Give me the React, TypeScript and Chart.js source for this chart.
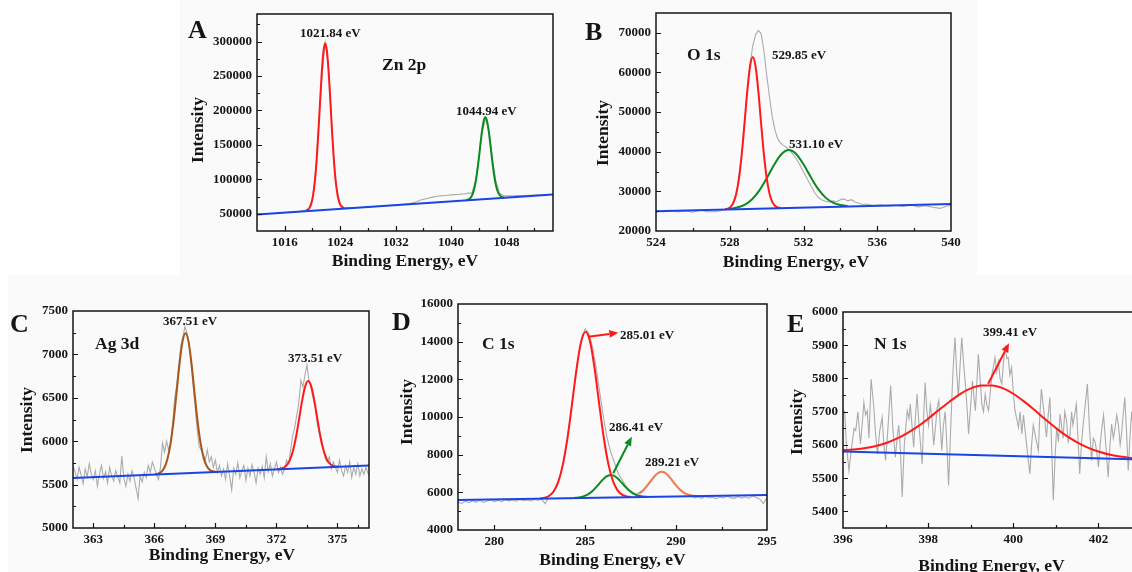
import React, { useEffect, useRef } from "react";
import { Chart, registerables } from "chart.js";

Chart.register(...registerables);

const SERIF = '"Liberation Serif", "Times New Roman", serif';

// ---------------- Panel A : Zn 2p ----------------
const A_RAW_X = [1012, 1012.5, 1013, 1013.5, 1014, 1014.5, 1015, 1015.5, 1016, 1016.5, 1017, 1017.5, 1018, 1018.5, 1019, 1019.5, 1020, 1020.5, 1021, 1021.5, 1021.84, 1022.25, 1022.5, 1023, 1023.5, 1024, 1024.5, 1025, 1025.5, 1026, 1026.5, 1027, 1027.5, 1028, 1028.5, 1029, 1029.5, 1030, 1030.5, 1031, 1031.5, 1032, 1032.5, 1033, 1033.5, 1034, 1034.5, 1035, 1035.5, 1036, 1036.5, 1037, 1037.5, 1038, 1038.5, 1039, 1039.5, 1040, 1040.5, 1041, 1041.5, 1042, 1042.5, 1043, 1043.5, 1044, 1044.5, 1045, 1045.5, 1046, 1046.5, 1047, 1047.5, 1048, 1048.5, 1049, 1049.5, 1050, 1050.5, 1051, 1051.5, 1052, 1052.5, 1053, 1053.5, 1054, 1054.7];
const A_RAW_Y = [49500, 49600, 49900, 50000, 50500, 50600, 51000, 51200, 51800, 52000, 52400, 52600, 53200, 54500, 55500, 58000, 72000, 115000, 195000, 265000, 298000, 268000, 235000, 140000, 86000, 64000, 59500, 59000, 59200, 58800, 59000, 59200, 59600, 59800, 60200, 60500, 60900, 61400, 61600, 62000, 62400, 62800, 63300, 63600, 64200, 64900, 66000, 67500, 69500, 71000, 72000, 73500, 74500, 75500, 76000, 76500, 77000, 77500, 77800, 78000, 78500, 79000, 80000, 80000, 98000, 130000, 170000, 188000, 168000, 127000, 95000, 80000, 76500, 76000, 76200, 76000, 76300, 76500, 76600, 76800, 77000, 77200, 77400, 77600, 77800, 78000, 78300];
const A_PEAK1_X = [1019.09, 1019.34, 1019.59, 1019.84, 1020.09, 1020.34, 1020.59, 1020.84, 1021.09, 1021.34, 1021.59, 1021.84, 1022.09, 1022.34, 1022.59, 1022.84, 1023.09, 1023.34, 1023.59, 1023.84, 1024.09, 1024.34, 1024.59];
const A_PEAK1_Y = [54500, 55800, 58800, 65000, 76700, 96300, 126000, 166000, 211000, 254500, 286000, 297500, 286000, 255000, 212000, 167000, 128000, 98300, 79000, 67600, 61800, 59200, 58200];
const A_PEAK2_X = [1042.19, 1042.44, 1042.69, 1042.94, 1043.19, 1043.44, 1043.69, 1043.94, 1044.19, 1044.44, 1044.69, 1044.94, 1045.19, 1045.44, 1045.69, 1045.94, 1046.19, 1046.44, 1046.69, 1046.94, 1047.19, 1047.44, 1047.69];
const A_PEAK2_Y = [69800, 70600, 72100, 75200, 81100, 90800, 105500, 125000, 147300, 168600, 184100, 190000, 184400, 169300, 148300, 126400, 107200, 92800, 83500, 77900, 75200, 74000, 73600];
const A_BASE_X = [1012, 1054.7];
const A_BASE_Y = [49000, 78000];
const A_X_TICKS = [1016, 1024, 1032, 1040, 1048];
const A_X_MINOR = [1020, 1028, 1036, 1044, 1052];
const A_Y_TICKS = [50000, 100000, 150000, 200000, 250000, 300000];
const A_Y_MINOR = [75000, 125000, 175000, 225000, 275000, 325000];

// ---------------- Panel B : O 1s ----------------
const B_RAW_X = [524.0, 524.4, 524.8, 525.2, 525.6, 526.0, 526.4, 526.8, 527.2, 527.6, 527.9, 528.05, 528.2, 528.35, 528.5, 528.65, 528.8, 528.95, 529.1, 529.25, 529.4, 529.55, 529.7, 529.85, 530.0, 530.15, 530.3, 530.45, 530.6, 530.75, 530.9, 531.05, 531.2, 531.4, 531.6, 531.8, 532.0, 532.2, 532.4, 532.6, 532.8, 533.0, 533.2, 533.4, 533.6, 533.8, 534.0, 534.2, 534.4, 534.6, 534.8, 535.0, 535.2, 535.4, 535.8, 536.2, 536.6, 537.0, 537.4, 537.8, 538.2, 538.6, 539.0, 539.4, 539.8, 540.0];
const B_RAW_Y = [25100, 24900, 25250, 24800, 25050, 24750, 25300, 24900, 24850, 25250, 25500, 26100, 27300, 29500, 33500, 39500, 47300, 55500, 62000, 66800, 69500, 70600, 69800, 65500, 59500, 54000, 49000, 45500, 43300, 42200, 41600, 41200, 40600, 39500, 38300, 36700, 34900, 33200, 31400, 29700, 28500, 27800, 27500, 27300, 27600, 27400, 27900, 28100, 27600, 27900, 27300, 27000, 26700, 26800, 26400, 26600, 26300, 26500, 26200, 26600, 26100, 26400, 26000, 25700, 26300, 26500];
const B_PEAK1_X = [527.75, 527.9, 528.05, 528.2, 528.35, 528.5, 528.65, 528.8, 528.95, 529.1, 529.25, 529.4, 529.55, 529.7, 529.85, 530.0, 530.15, 530.3, 530.45, 530.6, 530.75];
const B_PEAK1_Y = [25490, 25660, 26100, 27150, 29350, 33280, 39310, 47100, 55240, 61500, 63890, 61540, 55300, 47200, 39450, 33450, 29550, 27390, 26380, 25960, 25830];
const B_PEAK2_X = [528.0, 528.4, 528.8, 529.2, 529.6, 530.0, 530.4, 530.8, 531.2, 531.6, 532.0, 532.4, 532.8, 533.2, 533.6, 534.0, 534.4];
const B_PEAK2_Y = [25590, 25920, 26610, 27970, 30200, 33270, 36640, 39350, 40410, 39440, 36820, 33540, 30560, 28420, 27150, 26550, 26310];
const B_BASE_X = [524, 540];
const B_BASE_Y = [25000, 26800];
const B_X_TICKS = [524, 528, 532, 536, 540];
const B_X_MINOR = [526, 530, 534, 538];
const B_Y_TICKS = [20000, 30000, 40000, 50000, 60000, 70000];
const B_Y_MINOR = [25000, 35000, 45000, 55000, 65000];

// ---------------- Panel C : Ag 3d ----------------
const C_RAW_X = [362.0, 362.1, 362.2, 362.3, 362.4, 362.5, 362.6, 362.7, 362.8, 362.9, 363.0, 363.1, 363.2, 363.3, 363.4, 363.5, 363.6, 363.7, 363.8, 363.9, 364.0, 364.1, 364.2, 364.3, 364.4, 364.5, 364.6, 364.7, 364.8, 364.9, 365.0, 365.1, 365.2, 365.3, 365.4, 365.5, 365.6, 365.7, 365.8, 365.9, 366.0, 366.1, 366.2, 366.3, 366.4, 366.5, 366.6, 366.7, 366.8, 366.9, 367.0, 367.1, 367.2, 367.3, 367.4, 367.5, 367.6, 367.7, 367.8, 367.9, 368.0, 368.1, 368.2, 368.3, 368.4, 368.5, 368.6, 368.7, 368.8, 368.9, 369.0, 369.1, 369.2, 369.3, 369.4, 369.5, 369.6, 369.7, 369.8, 369.9, 370.0, 370.1, 370.2, 370.3, 370.4, 370.5, 370.6, 370.7, 370.8, 370.9, 371.0, 371.1, 371.2, 371.3, 371.4, 371.5, 371.6, 371.7, 371.8, 371.9, 372.0, 372.1, 372.2, 372.3, 372.4, 372.5, 372.6, 372.7, 372.8, 372.9, 373.0, 373.1, 373.2, 373.3, 373.4, 373.5, 373.6, 373.7, 373.8, 373.9, 374.0, 374.1, 374.2, 374.3, 374.4, 374.5, 374.6, 374.7, 374.8, 374.9, 375.0, 375.1, 375.2, 375.3, 375.4, 375.5, 375.6, 375.7, 375.8, 375.9, 376.0, 376.1, 376.2, 376.3, 376.4, 376.55];
const C_RAW_Y = [5720, 5650, 5560, 5700, 5610, 5510, 5680, 5590, 5740, 5620, 5560, 5660, 5480, 5620, 5720, 5570, 5650, 5520, 5700, 5600, 5540, 5660, 5590, 5520, 5830, 5570, 5480, 5620, 5540, 5660, 5580, 5460, 5340, 5600, 5530, 5640, 5580, 5720, 5640, 5760, 5690, 5620, 5560, 5700, 5980, 5870, 6000, 5900, 5980, 6200, 6500, 6650, 6880, 7100, 7200, 7320, 7250, 7120, 6900, 6650, 6400, 6150, 5940, 5900, 5850, 5780, 5900, 5760, 5820, 5700, 5780, 5640, 5720, 5600, 5680, 5560, 5740, 5600, 5440, 5690, 5620, 5750, 5580, 5660, 5720, 5550, 5690, 5600, 5730, 5640, 5520, 5690, 5620, 5710, 5580, 5820, 5650, 5740, 5600, 5680, 5760, 5640, 5700, 5620, 5680, 5780, 5740, 5900, 6060, 6160, 6300, 6440, 6700, 6620, 6760, 6880, 6700, 6620, 6500, 6400, 6220, 6100, 5980, 5900, 5800, 5760, 5820, 5680, 5760, 5700, 5640, 5780, 5660, 5600, 5720, 5640, 5760, 5580, 5700, 5620, 5740, 5600, 5680, 5620, 5700, 5600];
const C_PEAK1_X = [366.03, 366.18, 366.33, 366.48, 366.63, 366.78, 366.93, 367.08, 367.23, 367.38, 367.53, 367.68, 367.83, 367.98, 368.13, 368.28, 368.43, 368.58, 368.73, 368.88, 369.03];
const C_PEAK1_Y = [5618, 5626, 5645, 5691, 5784, 5951, 6205, 6535, 6879, 7144, 7245, 7147, 6885, 6544, 6217, 5966, 5802, 5712, 5669, 5653, 5648];
const C_PEAK2_X = [372.06, 372.21, 372.36, 372.51, 372.66, 372.81, 372.96, 373.11, 373.26, 373.41, 373.56, 373.71, 373.86, 374.01, 374.16, 374.31, 374.46, 374.61, 374.76, 374.91, 375.06];
const C_PEAK2_Y = [5677, 5682, 5695, 5723, 5782, 5886, 6045, 6250, 6464, 6629, 6693, 6632, 6470, 6259, 6057, 5901, 5800, 5744, 5719, 5709, 5707];
const C_BASE_X = [362, 376.55];
const C_BASE_Y = [5575, 5720];
const C_X_TICKS = [363, 366, 369, 372, 375];
const C_X_MINOR = [364.5, 367.5, 370.5, 373.5, 376];
const C_Y_TICKS = [5000, 5500, 6000, 6500, 7000, 7500];
const C_Y_MINOR = [5250, 5750, 6250, 6750, 7250];

// ---------------- Panel D : C 1s ----------------
const D_RAW_X = [278.0, 278.2, 278.4, 278.6, 278.8, 279.0, 279.2, 279.4, 279.6, 279.8, 280.0, 280.2, 280.4, 280.6, 280.8, 281.0, 281.2, 281.4, 281.6, 281.8, 282.0, 282.2, 282.4, 282.6, 282.8, 283.0, 283.2, 283.4, 283.6, 283.8, 284.0, 284.2, 284.4, 284.6, 284.8, 285.0, 285.2, 285.4, 285.6, 285.8, 286.0, 286.2, 286.4, 286.6, 286.8, 287.0, 287.2, 287.4, 287.6, 287.8, 288.0, 288.2, 288.4, 288.6, 288.8, 289.0, 289.2, 289.4, 289.6, 289.8, 290.0, 290.2, 290.4, 290.6, 290.8, 291.0, 291.2, 291.4, 291.6, 291.8, 292.0, 292.2, 292.4, 292.6, 292.8, 293.0, 293.2, 293.4, 293.6, 293.8, 294.0, 294.2, 294.4, 294.6, 294.8, 295.0];
const D_RAW_Y = [5480, 5410, 5530, 5450, 5560, 5480, 5590, 5460, 5540, 5600, 5510, 5580, 5500, 5610, 5550, 5590, 5530, 5620, 5560, 5600, 5540, 5620, 5580, 5630, 5400, 5810, 5980, 6290, 6820, 7630, 8760, 10170, 11700, 13120, 14180, 14680, 14450, 13720, 12600, 11300, 10000, 8900, 8150, 7600, 7050, 6700, 6400, 6150, 6000, 5900, 6000, 6150, 6380, 6620, 6860, 7020, 7120, 7050, 6870, 6630, 6380, 6170, 6010, 5920, 5860, 5700, 5760, 5680, 5780, 5700, 5740, 5660, 5760, 5700, 5790, 5720, 5680, 5780, 5700, 5760, 5690, 5800, 5730, 5640, 5400, 5720];
const D_PEAK1_X = [282.52, 282.77, 283.02, 283.27, 283.52, 283.77, 284.02, 284.27, 284.52, 284.77, 285.02, 285.27, 285.52, 285.77, 286.02, 286.27, 286.52, 286.77, 287.02, 287.27, 287.52];
const D_PEAK1_Y = [5676, 5715, 5818, 6061, 6566, 7471, 8865, 10659, 12533, 13977, 14531, 13985, 12549, 10683, 8897, 7511, 6614, 6117, 5882, 5787, 5756];
const D_PEAK2_X = [284.4, 284.65, 284.9, 285.15, 285.4, 285.65, 285.9, 286.15, 286.4, 286.65, 286.9, 287.15, 287.4, 287.65, 287.9, 288.15, 288.4];
const D_PEAK2_Y = [5702, 5727, 5783, 5891, 6074, 6328, 6608, 6834, 6923, 6842, 6624, 6352, 6106, 5931, 5831, 5783, 5766];
const D_PEAK3_X = [287.95, 288.2, 288.45, 288.7, 288.95, 289.2, 289.45, 289.7, 289.95, 290.2, 290.45, 290.7, 290.95, 291.2];
const D_PEAK3_Y = [5922, 6114, 6396, 6720, 6990, 7098, 6998, 6736, 6420, 6146, 5962, 5863, 5821, 5807];
const D_BASE_X = [278, 295];
const D_BASE_Y = [5590, 5860];
const D_X_TICKS = [280, 285, 290, 295];
const D_X_MINOR = [282.5, 287.5, 292.5];
const D_Y_TICKS = [4000, 6000, 8000, 10000, 12000, 14000, 16000];
const D_Y_MINOR = [5000, 7000, 9000, 11000, 13000, 15000];

// ---------------- Panel E : N 1s ----------------
const E_RAW_X = [396.0, 396.04, 396.08, 396.14, 396.2, 396.26, 396.3, 396.35, 396.41, 396.45, 396.49, 396.53, 396.57, 396.61, 396.66, 396.72, 396.76, 396.81, 396.86, 396.92, 396.96, 397.0, 397.04, 397.08, 397.12, 397.17, 397.23, 397.27, 397.31, 397.35, 397.39, 397.44, 397.51, 397.55, 397.58, 397.62, 397.66, 397.7, 397.74, 397.79, 397.86, 397.9, 397.93, 397.97, 398.01, 398.05, 398.09, 398.13, 398.17, 398.21, 398.25, 398.29, 398.32, 398.36, 398.4, 398.44, 398.48, 398.53, 398.57, 398.6, 398.63, 398.67, 398.71, 398.75, 398.79, 398.83, 398.88, 398.92, 398.95, 399.0, 399.04, 399.08, 399.11, 399.15, 399.18, 399.22, 399.26, 399.3, 399.34, 399.38, 399.42, 399.46, 399.5, 399.54, 399.57, 399.61, 399.65, 399.69, 399.73, 399.77, 399.81, 399.85, 399.88, 399.92, 399.96, 400.0, 400.04, 400.08, 400.12, 400.16, 400.2, 400.24, 400.28, 400.33, 400.39, 400.43, 400.47, 400.53, 400.59, 400.62, 400.66, 400.72, 400.78, 400.82, 400.86, 400.9, 400.94, 400.98, 401.02, 401.06, 401.1, 401.14, 401.17, 401.21, 401.25, 401.29, 401.33, 401.37, 401.4, 401.44, 401.48, 401.52, 401.56, 401.6, 401.64, 401.69, 401.74, 401.79, 401.84, 401.88, 401.92, 401.96, 402.0, 402.04, 402.08, 402.12, 402.15, 402.19, 402.23, 402.27, 402.31, 402.35, 402.39, 402.43, 402.47, 402.51, 402.54, 402.58, 402.62, 402.66, 402.7, 402.74, 402.78, 402.82, 402.86, 402.9, 402.94, 403.0];
const E_RAW_Y = [5705, 5700, 5600, 5523, 5590, 5650, 5643, 5700, 5603, 5660, 5728, 5690, 5703, 5620, 5798, 5720, 5640, 5573, 5640, 5683, 5600, 5553, 5620, 5700, 5778, 5650, 5563, 5620, 5660, 5580, 5443, 5600, 5703, 5680, 5723, 5660, 5593, 5680, 5753, 5650, 5543, 5700, 5788, 5700, 5660, 5720, 5683, 5600, 5650, 5710, 5733, 5650, 5583, 5660, 5700, 5600, 5478, 5650, 5783, 5860, 5923, 5820, 5743, 5840, 5923, 5850, 5773, 5700, 5633, 5720, 5793, 5740, 5703, 5800, 5873, 5800, 5723, 5700, 5753, 5720, 5703, 5760, 5813, 5840, 5863, 5820, 5850, 5800, 5783, 5850, 5893, 5860, 5863, 5810, 5833, 5760, 5703, 5680, 5653, 5700, 5633, 5690, 5640, 5580, 5513, 5600, 5660, 5620, 5583, 5680, 5768, 5700, 5623, 5690, 5743, 5600, 5433, 5560, 5653, 5610, 5693, 5650, 5620, 5700, 5673, 5610, 5630, 5700, 5660, 5690, 5723, 5620, 5513, 5600, 5660, 5720, 5783, 5650, 5553, 5620, 5610, 5580, 5533, 5600, 5650, 5690, 5640, 5570, 5503, 5600, 5663, 5620, 5650, 5690, 5660, 5600, 5630, 5690, 5743, 5640, 5523, 5620, 5700, 5640, 5560, 5610, 5650, 5600];
const E_PEAK_X = [396, 396.25, 396.5, 396.75, 397, 397.25, 397.5, 397.75, 398, 398.25, 398.5, 398.75, 399, 399.25, 399.5, 399.75, 400, 400.25, 400.5, 400.75, 401, 401.25, 401.5, 401.75, 402, 402.25, 402.5, 402.75, 403];
const E_PEAK_Y = [5584, 5586, 5590, 5596, 5605, 5618, 5635, 5655, 5679, 5705, 5730, 5753, 5770, 5779, 5779, 5771, 5754, 5731, 5705, 5677, 5651, 5627, 5608, 5592, 5580, 5571, 5565, 5561, 5558];
const E_BASE_X = [396, 403];
const E_BASE_Y = [5580, 5556];
const E_X_TICKS = [396, 398, 400, 402];
const E_X_MINOR = [397, 399, 401, 403];
const E_Y_TICKS = [5400, 5500, 5600, 5700, 5800, 5900, 6000];
const E_Y_MINOR = [5350, 5450, 5550, 5650, 5750, 5850, 5950];

// ---------------- colours ----------------
const GRAY = "#ababab";
const BLUE = "#1a44e6";
const RED = "#ff1a1a";
const GREEN = "#0b8a1f";
const BROWN = "#a8561c";
const CORAL = "#f47c50";
const INK = "#151515";

type Series = { x: number[]; y: number[]; color: string; width: number; smooth: boolean };
type Txt = { text: string; x: number; y: number; size: number };
type Arrow = { from: [number, number]; to: [number, number]; color: string };
type PanelCfg = {
  plot: [number, number, number, number];
  margin: [number, number, number, number];
  xRange: [number, number];
  yRange: [number, number];
  xTicks: number[];
  xMinor: number[];
  yTicks: number[];
  yMinor: number[];
  series: Series[];
  texts: Txt[];
  xTitle: [number, number];
  yTitle: [number, number];
  arrows: Arrow[];
};

const raw = (x: number[], y: number[]): Series => ({ x, y, color: GRAY, width: 1.1, smooth: false });
const fit = (x: number[], y: number[], color: string): Series => ({ x, y, color, width: 2, smooth: true });
const base = (x: number[], y: number[]): Series => ({ x, y, color: BLUE, width: 2, smooth: false });

const PANELS: PanelCfg[] = [
  {
    plot: [257, 14, 553, 231],
    margin: [80, 14, 22, 45],
    xRange: [1012, 1054.7],
    yRange: [25000, 340000],
    xTicks: A_X_TICKS, xMinor: A_X_MINOR, yTicks: A_Y_TICKS, yMinor: A_Y_MINOR,
    series: [base(A_BASE_X, A_BASE_Y), fit(A_PEAK1_X, A_PEAK1_Y, RED), fit(A_PEAK2_X, A_PEAK2_Y, GREEN), raw(A_RAW_X, A_RAW_Y)],
    texts: [
      { text: "A", x: 188, y: 38, size: 26 },
      { text: "Zn 2p", x: 382, y: 69.5, size: 17.5 },
      { text: "1021.84 eV", x: 300, y: 36.5, size: 13 },
      { text: "1044.94 eV", x: 456, y: 115, size: 13 },
    ],
    xTitle: [405, 266],
    yTitle: [203, 130],
    arrows: [],
  },
  {
    plot: [656, 13, 951, 231],
    margin: [80, 13, 22, 45],
    xRange: [524, 540],
    yRange: [20000, 75000],
    xTicks: B_X_TICKS, xMinor: B_X_MINOR, yTicks: B_Y_TICKS, yMinor: B_Y_MINOR,
    series: [base(B_BASE_X, B_BASE_Y), fit(B_PEAK1_X, B_PEAK1_Y, RED), fit(B_PEAK2_X, B_PEAK2_Y, GREEN), raw(B_RAW_X, B_RAW_Y)],
    texts: [
      { text: "B", x: 585, y: 40, size: 26 },
      { text: "O 1s", x: 687, y: 60, size: 17.5 },
      { text: "529.85 eV", x: 772, y: 58.5, size: 13 },
      { text: "531.10 eV", x: 789, y: 147.5, size: 13 },
    ],
    xTitle: [796, 267],
    yTitle: [608, 133],
    arrows: [],
  },
  {
    plot: [73, 311, 369, 528],
    margin: [73, 41, 22, 44],
    xRange: [362, 376.55],
    yRange: [5000, 7500],
    xTicks: C_X_TICKS, xMinor: C_X_MINOR, yTicks: C_Y_TICKS, yMinor: C_Y_MINOR,
    series: [base(C_BASE_X, C_BASE_Y), fit(C_PEAK1_X, C_PEAK1_Y, BROWN), fit(C_PEAK2_X, C_PEAK2_Y, RED), raw(C_RAW_X, C_RAW_Y)],
    texts: [
      { text: "C", x: 10, y: 332, size: 26 },
      { text: "Ag 3d", x: 95, y: 348.5, size: 17.5 },
      { text: "367.51 eV", x: 163, y: 325, size: 13 },
      { text: "373.51 eV", x: 288, y: 361.5, size: 13 },
    ],
    xTitle: [222, 560],
    yTitle: [31.5, 420],
    arrows: [],
  },
  {
    plot: [458, 304, 767, 530],
    margin: [80, 34, 22, 42],
    xRange: [278, 295],
    yRange: [4000, 16000],
    xTicks: D_X_TICKS, xMinor: D_X_MINOR, yTicks: D_Y_TICKS, yMinor: D_Y_MINOR,
    series: [base(D_BASE_X, D_BASE_Y), fit(D_PEAK1_X, D_PEAK1_Y, RED), fit(D_PEAK2_X, D_PEAK2_Y, GREEN), fit(D_PEAK3_X, D_PEAK3_Y, CORAL), raw(D_RAW_X, D_RAW_Y)],
    texts: [
      { text: "D", x: 392, y: 330, size: 26 },
      { text: "C 1s", x: 482, y: 349, size: 17.5 },
      { text: "285.01 eV", x: 620, y: 338.5, size: 13 },
      { text: "286.41 eV", x: 609, y: 431, size: 13 },
      { text: "289.21 eV", x: 645, y: 466, size: 13 },
    ],
    xTitle: [612.5, 564.5],
    yTitle: [411.5, 412],
    arrows: [
      { from: [285.17, 14264], to: [286.82, 14476], color: RED },
      { from: [286.54, 7011], to: [287.56, 8954], color: GREEN },
    ],
  },
  {
    plot: [843, 312, 1141, 528],
    margin: [80, 42, 22, 44],
    xRange: [396, 403],
    yRange: [5350, 6000],
    xTicks: E_X_TICKS, xMinor: E_X_MINOR, yTicks: E_Y_TICKS, yMinor: E_Y_MINOR,
    series: [base(E_BASE_X, E_BASE_Y), fit(E_PEAK_X, E_PEAK_Y, RED), raw(E_RAW_X, E_RAW_Y)],
    texts: [
      { text: "E", x: 787, y: 332, size: 26 },
      { text: "N 1s", x: 874, y: 349, size: 17.5 },
      { text: "399.41 eV", x: 983, y: 335.5, size: 13 },
    ],
    xTitle: [991.5, 571],
    yTitle: [801.5, 422],
    arrows: [{ from: [399.41, 5784], to: [399.9, 5906], color: RED }],
  },
];

function Panel({ cfg }: { cfg: PanelCfg }) {
  const ref = useRef<HTMLCanvasElement | null>(null);
  const [pl, pt, pr, pb] = cfg.plot;
  const [ml, mt, mr, mb] = cfg.margin;
  const cLeft = pl - ml;
  const cTop = pt - mt;
  const width = ml + (pr - pl) + mr;
  const height = mt + (pb - pt) + mb;

  useEffect(() => {
    if (!ref.current) return;
    const tickFont = { family: SERIF, size: 13, weight: "bold" as const };
    const zeroPad = (s: any) => {
      s.paddingLeft = 0;
      s.paddingRight = 0;
      s.paddingTop = 0;
      s.paddingBottom = 0;
    };
    const decor = {
      id: "xpsDecor",
      afterDraw(chart: any) {
        const ctx: CanvasRenderingContext2D = chart.ctx;
        const { left, top, right, bottom } = chart.chartArea;
        const xs = chart.scales.x;
        const ys = chart.scales.y;
        ctx.save();
        ctx.strokeStyle = INK;
        ctx.lineWidth = 1.5;
        ctx.strokeRect(left, top, right - left, bottom - top);
        ctx.lineWidth = 1.2;
        ctx.beginPath();
        const tick = (isX: boolean, v: number, len: number) => {
          if (isX) {
            const p = Math.round(xs.getPixelForValue(v)) + 0.5;
            if (p < left + 1 || p > right - 1) return;
            ctx.moveTo(p, bottom);
            ctx.lineTo(p, bottom - len);
          } else {
            const p = Math.round(ys.getPixelForValue(v)) + 0.5;
            if (p < top + 1 || p > bottom - 1) return;
            ctx.moveTo(left, p);
            ctx.lineTo(left + len, p);
          }
        };
        cfg.xTicks.forEach((v) => tick(true, v, 5));
        cfg.xMinor.forEach((v) => tick(true, v, 3));
        cfg.yTicks.forEach((v) => tick(false, v, 5));
        cfg.yMinor.forEach((v) => tick(false, v, 3));
        ctx.stroke();

        cfg.arrows.forEach((a) => {
          const x1 = xs.getPixelForValue(a.from[0]);
          const y1 = ys.getPixelForValue(a.from[1]);
          const x2 = xs.getPixelForValue(a.to[0]);
          const y2 = ys.getPixelForValue(a.to[1]);
          const ang = Math.atan2(y2 - y1, x2 - x1);
          const hl = 9;
          const hw = 3.8;
          const bx = x2 - hl * Math.cos(ang);
          const by = y2 - hl * Math.sin(ang);
          ctx.strokeStyle = a.color;
          ctx.fillStyle = a.color;
          ctx.lineWidth = 2;
          ctx.beginPath();
          ctx.moveTo(x1, y1);
          ctx.lineTo(bx, by);
          ctx.stroke();
          ctx.beginPath();
          ctx.moveTo(x2, y2);
          ctx.lineTo(bx + hw * Math.sin(ang), by - hw * Math.cos(ang));
          ctx.lineTo(bx - hw * Math.sin(ang), by + hw * Math.cos(ang));
          ctx.closePath();
          ctx.fill();
        });

        ctx.fillStyle = INK;
        ctx.textBaseline = "alphabetic";
        ctx.textAlign = "left";
        cfg.texts.forEach((t) => {
          ctx.font = `bold ${t.size}px ${SERIF}`;
          ctx.fillText(t.text, t.x - cLeft, t.y - cTop);
        });
        ctx.font = `bold 17.5px ${SERIF}`;
        ctx.textAlign = "center";
        ctx.fillText("Binding Energy, eV", cfg.xTitle[0] - cLeft, cfg.xTitle[1] - cTop);
        ctx.translate(cfg.yTitle[0] - cLeft, cfg.yTitle[1] - cTop);
        ctx.rotate(-Math.PI / 2);
        ctx.fillText("Intensity", 0, 0);
        ctx.restore();
      },
    };

    const chart = new Chart(ref.current, {
      type: "line",
      data: {
        datasets: cfg.series.map((s) => ({
          data: s.x.map((x, i) => ({ x, y: s.y[i] })),
          borderColor: s.color,
          backgroundColor: s.color,
          borderWidth: s.width,
          pointRadius: 0,
          fill: false,
          tension: s.smooth ? 0.4 : 0,
          cubicInterpolationMode: s.smooth ? ("monotone" as const) : ("default" as const),
        })),
      },
      options: {
        responsive: false,
        maintainAspectRatio: false,
        animation: false,
        devicePixelRatio: 1,
        events: [],
        layout: { padding: { left: 0, top: mt, right: mr, bottom: 0 } },
        plugins: { legend: { display: false }, tooltip: { enabled: false }, title: { display: false } },
        scales: {
          x: {
            type: "linear",
            min: cfg.xRange[0],
            max: cfg.xRange[1],
            grid: { display: false, drawTicks: false },
            border: { display: false },
            ticks: { font: tickFont, color: INK, padding: 4, maxRotation: 0, autoSkip: false, callback: (v: any) => String(v) },
            afterBuildTicks: (s: any) => {
              s.ticks = cfg.xTicks.map((value) => ({ value }));
            },
            afterFit: (s: any) => {
              s.height = mb;
              zeroPad(s);
            },
          },
          y: {
            type: "linear",
            min: cfg.yRange[0],
            max: cfg.yRange[1],
            grid: { display: false, drawTicks: false },
            border: { display: false },
            ticks: { font: tickFont, color: INK, padding: 5, autoSkip: false, callback: (v: any) => String(v) },
            afterBuildTicks: (s: any) => {
              s.ticks = cfg.yTicks.map((value) => ({ value }));
            },
            afterFit: (s: any) => {
              s.width = ml;
              zeroPad(s);
            },
          },
        },
      },
      plugins: [decor],
    } as any);
    return () => chart.destroy();
  }, [cfg]);

  return (
    <canvas
      ref={ref}
      width={width}
      height={height}
      style={{ position: "absolute", left: cLeft, top: cTop, width, height }}
    />
  );
}

export default function App() {
  return (
    <div
      style={{
        position: "fixed",
        left: 0,
        top: 0,
        width: 1132,
        height: 572,
        overflow: "hidden",
        background: "#fafafa",
      }}
    >
      <div style={{ position: "absolute", left: 0, top: 0, width: 180, height: 275, background: "#ffffff" }} />
      <div style={{ position: "absolute", left: 977, top: 0, width: 155, height: 275, background: "#ffffff" }} />
      <div style={{ position: "absolute", left: 0, top: 275, width: 8, height: 297, background: "#ffffff" }} />
      {PANELS.map((p, i) => (
        <Panel key={i} cfg={p} />
      ))}
    </div>
  );
}
